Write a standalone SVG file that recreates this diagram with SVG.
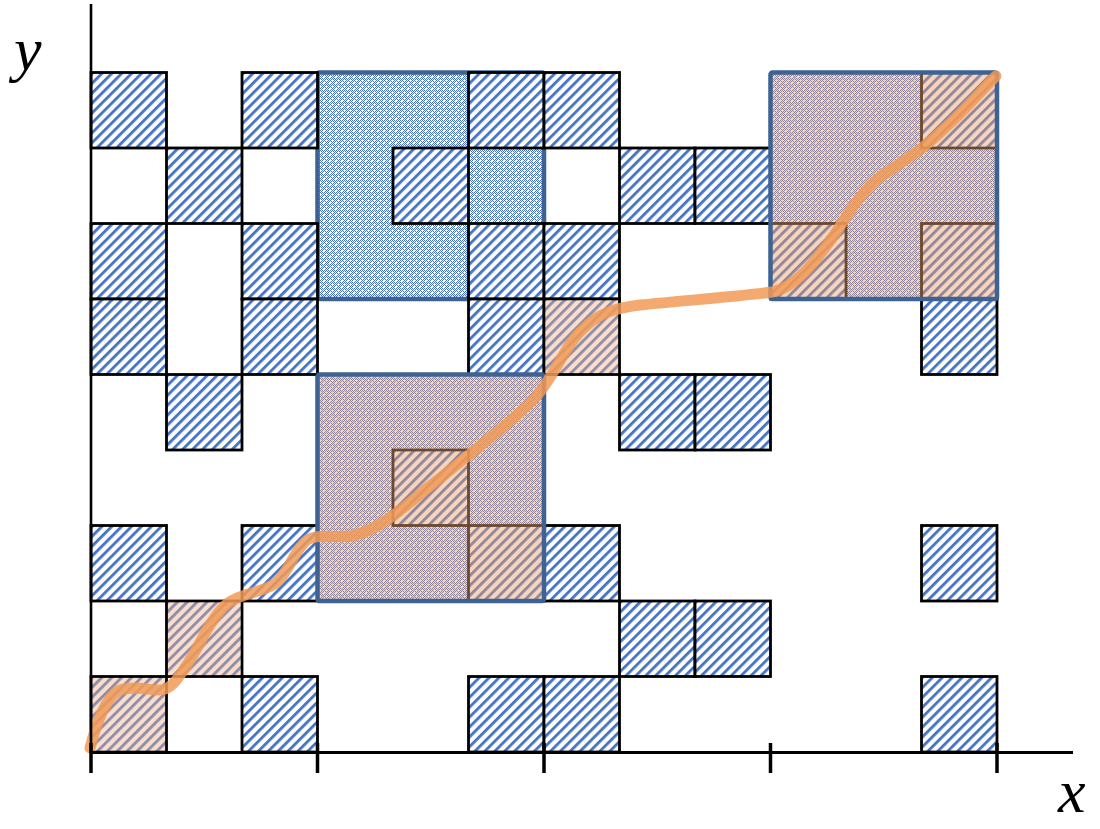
<svg xmlns="http://www.w3.org/2000/svg" width="1100" height="829" viewBox="0 0 1100 829">
<style>
.h{fill:url(#hatch);stroke:#000;stroke-width:2.8}
.ov{fill:#F4B183;fill-opacity:0.42}
.ovb{fill:#EDA06A;fill-opacity:0.45}
.box{fill:none;stroke:#3e6292;stroke-width:4.5}
.ax{stroke:#000;fill:none}
.lbl{font-family:"Liberation Serif",serif;font-style:italic;font-size:62px;fill:#000}
</style>
<defs>
<pattern id="hatch" patternUnits="userSpaceOnUse" width="7" height="10" patternTransform="rotate(45)">
<rect width="7" height="10" fill="#fff"/>
<rect width="2.8" height="10" fill="#4472C4"/>
</pattern>
<pattern id="chk" patternUnits="userSpaceOnUse" width="2" height="2">
<rect width="2" height="2" fill="#fff"/>
<rect width="1" height="1" fill="#4472C4"/>
<rect x="1" y="1" width="1" height="1" fill="#4472C4"/>
</pattern>
<pattern id="dots" patternUnits="userSpaceOnUse" width="6" height="6">
<rect width="6" height="6" fill="url(#chk)"/>
<rect x="2" y="2" width="1" height="1" fill="#fff"/>
<rect x="5" y="5" width="1" height="1" fill="#fff"/>
<rect x="0" y="4" width="1" height="1" fill="#fff"/>
</pattern>
<rect id="c" width="75.5" height="75.5"/>
<rect id="o" width="72.7" height="72.7"/>
</defs>

<g id="box-blue">
<rect x="317.5" y="72.5" width="226.5" height="226.5" rx="2" fill="url(#dots)" stroke="#3e6292" stroke-width="4.5"/>
</g>

<g id="box-fills">
<rect x="317.5" y="374.5" width="226.5" height="226.5" fill="url(#dots)"/>
<rect x="770.5" y="72.5" width="226.5" height="226.5" fill="url(#dots)"/>
</g>

<g id="cells">
<use href="#c" class="h" x="91" y="72.5"/>
<use href="#c" class="h" x="242" y="72.5"/>
<use href="#c" class="h" x="468.5" y="72.5"/>
<use href="#c" class="h" x="544" y="72.5"/>
<use href="#c" class="h" x="921.5" y="72.5"/>
<use href="#c" class="h" x="166.5" y="148"/>
<use href="#c" class="h" x="393" y="148"/>
<use href="#c" class="h" x="619.5" y="148"/>
<use href="#c" class="h" x="695" y="148"/>
<use href="#c" class="h" x="91" y="223.5"/>
<use href="#c" class="h" x="242" y="223.5"/>
<use href="#c" class="h" x="468.5" y="223.5"/>
<use href="#c" class="h" x="544" y="223.5"/>
<use href="#c" class="h" x="770.5" y="223.5"/>
<use href="#c" class="h" x="921.5" y="223.5"/>
<use href="#c" class="h" x="91" y="299"/>
<use href="#c" class="h" x="242" y="299"/>
<use href="#c" class="h" x="468.5" y="299"/>
<use href="#c" class="h" x="544" y="299"/>
<use href="#c" class="h" x="921.5" y="299"/>
<use href="#c" class="h" x="166.5" y="374.5"/>
<use href="#c" class="h" x="619.5" y="374.5"/>
<use href="#c" class="h" x="695" y="374.5"/>
<use href="#c" class="h" x="393" y="450"/>
<use href="#c" class="h" x="91" y="525.5"/>
<use href="#c" class="h" x="242" y="525.5"/>
<use href="#c" class="h" x="468.5" y="525.5"/>
<use href="#c" class="h" x="544" y="525.5"/>
<use href="#c" class="h" x="921.5" y="525.5"/>
<use href="#c" class="h" x="166.5" y="601"/>
<use href="#c" class="h" x="619.5" y="601"/>
<use href="#c" class="h" x="695" y="601"/>
<use href="#c" class="h" x="91" y="676.5"/>
<use href="#c" class="h" x="242" y="676.5"/>
<use href="#c" class="h" x="468.5" y="676.5"/>
<use href="#c" class="h" x="544" y="676.5"/>
<use href="#c" class="h" x="921.5" y="676.5"/>
</g>

<g id="overlays">
<rect class="ovb" x="317.5" y="374.5" width="226.5" height="226.5"/>
<rect class="ovb" x="770.5" y="72.5" width="226.5" height="226.5"/>
<use href="#o" class="ov" x="545.4" y="300.4"/>
<use href="#o" class="ov" x="167.9" y="602.4"/>
<use href="#o" class="ov" x="92.4" y="677.9"/>
</g>

<g id="boxes">
<rect class="box" x="317.5" y="374.5" width="226.5" height="226.5" rx="2"/>
<rect class="box" x="770.5" y="72.5" width="226.5" height="226.5" rx="2"/>
</g>

<g id="connectors">
<path d="M 90,748 C 96,725 104,700 118,691 C 130,685 148,690 160,690 C 172,690 180,675 190,660 C 200,645 212,615 228,603 C 244,592 262,593 276,583 C 289,572 293,552 306,541 C 316,533 335,538 350,536 C 375,533 405,507 430,486 C 460,462 510,424 535,398 C 555,376 565,345 582,330 C 598,313 615,308 640,305 C 690,300 745,296 772,292 C 795,288 815,262 832,238 C 848,215 858,195 880,177 C 905,160 925,148 945,128 C 965,110 980,92 996,76" fill="none" stroke="#F19A56" stroke-opacity="0.85" stroke-width="11" stroke-linecap="round" stroke-linejoin="round"/>
</g>

<g id="axes">
<line class="ax" x1="91" y1="4" x2="91" y2="753" stroke-width="2.6"/>
<line class="ax" x1="90" y1="752.5" x2="1073" y2="752.5" stroke-width="3"/>
<line class="ax" x1="91" y1="743" x2="91" y2="773" stroke-width="3.5"/>
<line class="ax" x1="317.5" y1="743" x2="317.5" y2="773" stroke-width="3.5"/>
<line class="ax" x1="544" y1="743" x2="544" y2="773" stroke-width="3.5"/>
<line class="ax" x1="770.5" y1="743" x2="770.5" y2="773" stroke-width="3.5"/>
<line class="ax" x1="997" y1="743" x2="997" y2="773" stroke-width="3.5"/>
<text class="lbl" x="14" y="70">y</text>
<text class="lbl" x="1058" y="812">x</text>
</g>
</svg>
